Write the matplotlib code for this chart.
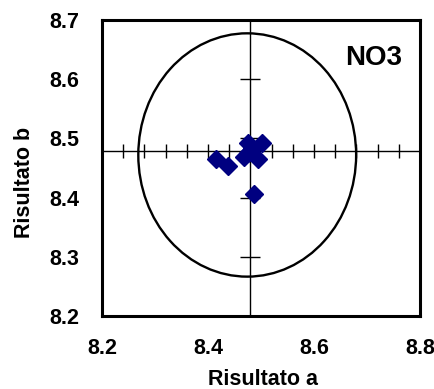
import matplotlib
matplotlib.use("Agg")
import matplotlib.pyplot as plt
from matplotlib.patches import Ellipse

plt.rcParams['font.family'] = ['Liberation Sans', 'DejaVu Sans']

# data
res_a = [8.416, 8.438, 8.476, 8.501, 8.467, 8.495, 8.476, 8.486, 8.483]
res_b = [8.466, 8.454, 8.492, 8.493, 8.469, 8.466, 8.475, 8.406, 8.484]
center_a = 8.479
center_b = 8.478
ell_center = (8.474, 8.472)
ell_width = 0.411
ell_height = 0.411
xticks = [8.2, 8.4, 8.6, 8.8]
yticks = [8.2, 8.3, 8.4, 8.5, 8.6, 8.7]
hticks = [8.24, 8.28, 8.32, 8.36, 8.40, 8.44, 8.48, 8.52, 8.56, 8.60, 8.64, 8.68, 8.72, 8.76]
vticks = [8.3, 8.4, 8.5, 8.6]
title = "NO3"

W, H = 435, 389
fig = plt.figure(figsize=(W/100, H/100), dpi=100)
ax = fig.add_axes([102/W, 1 - 316/H, (420-102)/W, (316-20)/H])
ax.set_xlim(8.2, 8.8)
ax.set_ylim(8.2, 8.7)

ax.add_patch(Ellipse(ell_center, ell_width, ell_height, fill=False,
                     edgecolor='black', lw=1.7, zorder=2))
ax.axvline(center_a, color='black', lw=1.0, zorder=1)
ax.axhline(center_b, color='black', lw=1.0, zorder=1)

# crosshair tick marks
ax.plot(hticks, [center_b]*len(hticks), linestyle='none', marker='|',
        markersize=10, markeredgewidth=1.0, color='black', zorder=1)
ax.plot([center_a]*len(vticks), vticks, linestyle='none', marker='_',
        markersize=14, markeredgewidth=1.0, color='black', zorder=1)

ax.plot(res_a, res_b, linestyle='none', marker='D', markersize=9.5,
        color='#000080', markeredgecolor='#000080', zorder=3)

ax.set_xticks(xticks)
ax.set_xticklabels([f"{v:.1f}" for v in xticks])
ax.set_yticks(yticks)
ax.set_yticklabels([f"{v:.1f}" for v in yticks])
ax.tick_params(length=0, labelsize=15.5)
for lab in ax.get_xticklabels() + ax.get_yticklabels():
    lab.set_fontweight('bold')
ax.tick_params(axis='x', pad=15.5)
ax.tick_params(axis='y', pad=16.5)
for s in ax.spines.values():
    s.set_linewidth(2.2)

fig.text(263/W, 1 - 385/H, "Risultato a", ha='center', va='baseline',
         fontsize=15.5, fontweight='bold')
fig.text(30/W, 1 - 182.5/H, "Risultato b", ha='center', va='baseline',
         rotation=90, rotation_mode='anchor', fontsize=15.5, fontweight='bold')
ax.text(402/W, 1 - 45/H, title, transform=fig.transFigure, ha='right', va='top',
        fontsize=20, fontweight='bold')

fig.savefig("out.png", dpi=100)
